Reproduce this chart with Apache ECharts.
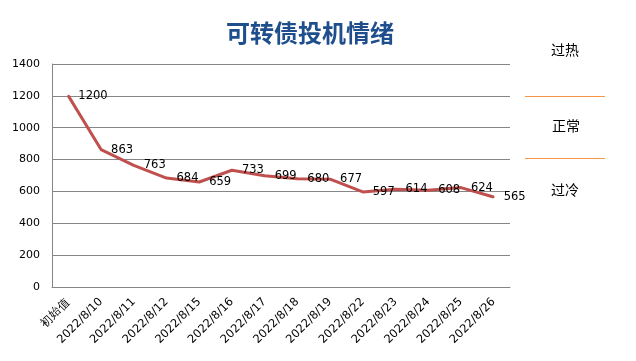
<!DOCTYPE html>
<html><head><meta charset="utf-8">
<script src="https://cdn.jsdelivr.net/npm/echarts@6/dist/echarts.min.js"></script>
<style>html,body{margin:0;padding:0;background:#fff}#c{width:636px;height:361px}</style>
</head><body><div id="c"></div>
<script>
var categories = ['初始值','2022/8/10','2022/8/11','2022/8/12','2022/8/15','2022/8/16','2022/8/17','2022/8/18','2022/8/19','2022/8/22','2022/8/23','2022/8/24','2022/8/25','2022/8/26'];
var values = [1200, 863, 763, 684, 659, 733, 699, 680, 677, 597, 614, 608, 624, 565];
var yTicks = [0, 200, 400, 600, 800, 1000, 1200, 1400];
var zoneLabels = ['过热', '正常', '过冷'];

var chart = echarts.init(document.getElementById('c'));
chart.setOption({
  animation: false,
  title: {
    text: '可转债投机情绪', left: 221, top: 16,
    textStyle: {fontFamily: 'Noto Sans CJK SC', fontSize: 24, fontWeight: 'bold', color: '#1F4E8C'}
  },
  grid: {left: 52, right: 126, top: 64, bottom: 74},
  xAxis: {
    type: 'category', data: categories, boundaryGap: true,
    axisLine: {lineStyle: {color: '#868686'}},
    axisTick: {show: false},
    axisLabel: {rotate: 45, fontFamily: 'DejaVu Sans', fontSize: 11.5, color: '#000', margin: 13, interval: 0}
  },
  yAxis: {
    type: 'value', min: yTicks[0], max: yTicks[yTicks.length - 1], interval: 200,
    axisLine: {show: true, lineStyle: {color: '#868686'}},
    axisTick: {show: false},
    splitLine: {lineStyle: {color: '#868686'}},
    axisLabel: {fontFamily: 'DejaVu Sans', fontSize: 11, color: '#000', margin: 12,
      formatter: function (v) { return String(v); }}
  },
  series: [{
    type: 'line', data: values, symbol: 'circle', symbolSize: 2, showSymbol: true,
    itemStyle: {color: '#C0504D'},
    lineStyle: {color: '#C0504D', width: 3},
    label: {show: true, position: 'right', distance: 9, fontFamily: 'DejaVu Sans', fontSize: 11.5, color: '#000'},
    labelLayout: {hideOverlap: false}
  }],
  graphic: [
    {type: 'text', left: 551, top: 43, style: {text: zoneLabels[0], font: '14px "Noto Sans CJK SC"', fill: '#000'}},
    {type: 'line', shape: {x1: 525, y1: 96.5, x2: 605, y2: 96.5}, style: {stroke: '#F79646', lineWidth: 1}},
    {type: 'text', left: 552, top: 119, style: {text: zoneLabels[1], font: '14px "Noto Sans CJK SC"', fill: '#000'}},
    {type: 'line', shape: {x1: 525, y1: 158.5, x2: 605, y2: 158.5}, style: {stroke: '#F79646', lineWidth: 1}},
    {type: 'text', left: 551, top: 183, style: {text: zoneLabels[2], font: '14px "Noto Sans CJK SC"', fill: '#000'}}
  ]
});
</script></body></html>
